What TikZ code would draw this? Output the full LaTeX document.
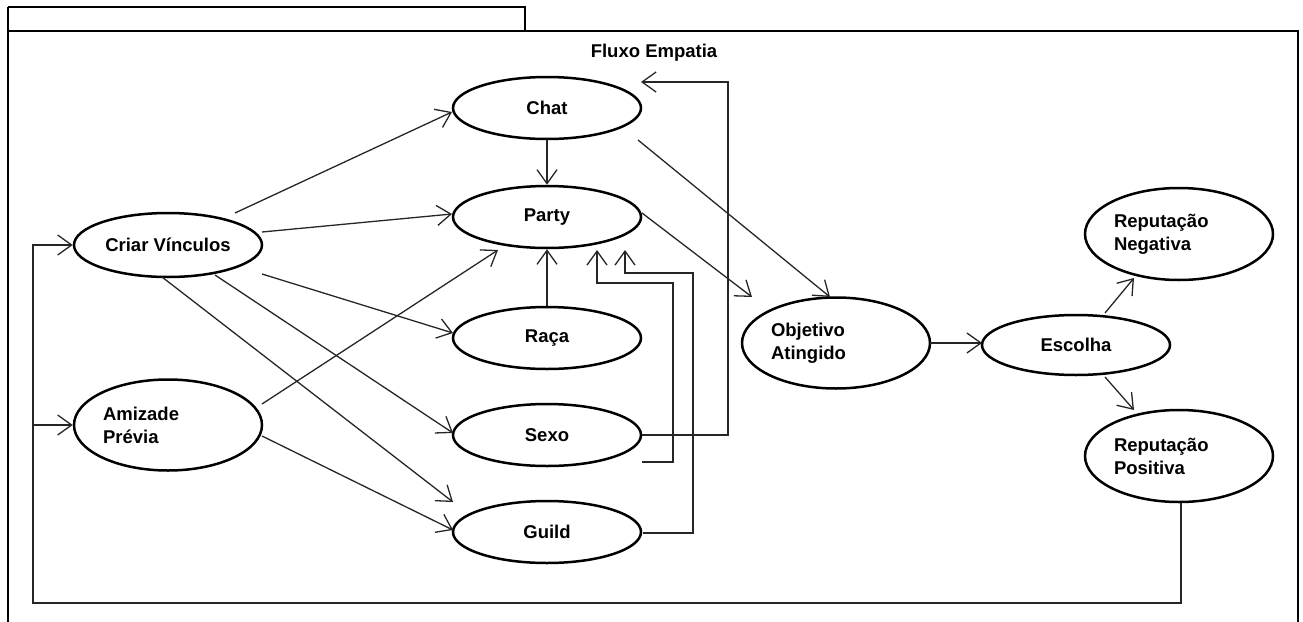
\documentclass[tikz,border=0pt]{standalone}
\usepackage{fontspec}
\setmainfont{Liberation Sans}
\usetikzlibrary{shapes.geometric,arrows.meta,calc}
\begin{document}
\begin{tikzpicture}[x=1pt,y=-1pt,
  every node/.style={font=\fontsize{18.5}{23}\selectfont\bfseries},
  uc/.style={ellipse,draw,line width=2.5pt,inner sep=0pt,minimum width=188pt,minimum height=62pt},
  uctwo/.style={uc,minimum height=91pt,text width=130pt,align=left},
  arr/.style={line width=1.3pt,draw=black!85,-{Straight Barb[length=14pt,width=20pt,line width=1.3pt]}},
  frame/.style={line width=2.8pt}]
\useasboundingbox (0,0) rectangle (1303,621);

% package frame with its tab
\draw[frame] (8,7) -- (525,7) -- (525,31);
\draw[frame] (8,640) -- (8,31) -- (1298,31) -- (1298,640);
\draw[frame] (8,7) -- (8,31);
\node (title) at (654,53) {Fluxo Empatia};

% use cases
\node[uc] (chat)  at (547,108) {Chat};
\node[uc] (party) at (547,217) {Party};
\node[uc] (raca)  at (547,338) {Raça};
\node[uc] (sexo)  at (547,435) {Sexo};
\node[uc] (guild) at (547,532) {Guild};
\node[uc,minimum height=64pt] (criar) at (168,245) {Criar Vínculos};
\node[uctwo] (amiz) at (168,425) {Amizade\\Prévia};
\node[uctwo] (obj)  at (836,343) {Objetivo\\Atingido};
\node[uc,minimum height=60pt] (esc) at (1076,345) {Escolha};
\node[uctwo,minimum height=92pt] (neg) at (1179,234) {Reputação\\Negativa};
\node[uctwo,minimum height=92pt] (pos) at (1179,456) {Reputação\\Positiva};

% links from Criar Vinculos and Amizade Previa
\draw[arr] ($(criar)+(67,-32)$) -- ($(chat)+(-95,4)$);
\draw[arr] ($(criar)+(94,-13)$) -- ($(party)+(-95,-3)$);
\draw[arr] ($(criar)+(94,29)$)  -- ($(raca)+(-94,-5)$);
\draw[arr] ($(criar)+(47,30)$)  -- ($(sexo)+(-94,-2)$);
\draw[arr] ($(criar)+(-6,32)$)  -- ($(guild)+(-94,-30)$);
\draw[arr] ($(amiz)+(94,-21)$)  -- ($(party)+(-49,33)$);
\draw[arr] ($(amiz)+(94,11)$)   -- ($(guild)+(-94,-2)$);

% links into Party
\draw[arr] (chat.south) -- (party.north);
\draw[arr] (raca.north) -- (party.south);
\draw[arr] ($(sexo)+(95,27)$) -| ($(party)+(126,66)$) -| ($(party)+(50,33)$);
\draw[arr] ($(guild)+(96,1)$) -| ($(party)+(146,56)$) -| ($(party)+(78,33)$);
\draw[arr] ($(sexo)+(95,0)$)  -| ($(chat)+(181,-26)$) -- ($(chat)+(94,-26)$);

% towards the goal
\draw[arr] ($(chat)+(91,32)$)  -- ($(obj)+(-6,-46)$);
\draw[arr] ($(party)+(95,-4)$) -- ($(obj)+(-84,-46)$);
\draw[arr] ($(obj)+(94,0)$)    -- ($(esc)+(-94,-2)$);
\draw[arr] ($(esc)+(29,-32)$)  -- ($(neg)+(-45,44)$);
\draw[arr] ($(esc)+(29,32)$)   -- ($(pos)+(-45,-46)$);

% feedback loop
\coordinate (loopbl) at (33,603);
\coordinate (branch) at (33,425);
\draw[arr] ($(pos.south)+(2,0)$) |- (loopbl) |- (criar.west);
\draw[arr] (branch) -- (amiz.west);
\end{tikzpicture}
\end{document}
